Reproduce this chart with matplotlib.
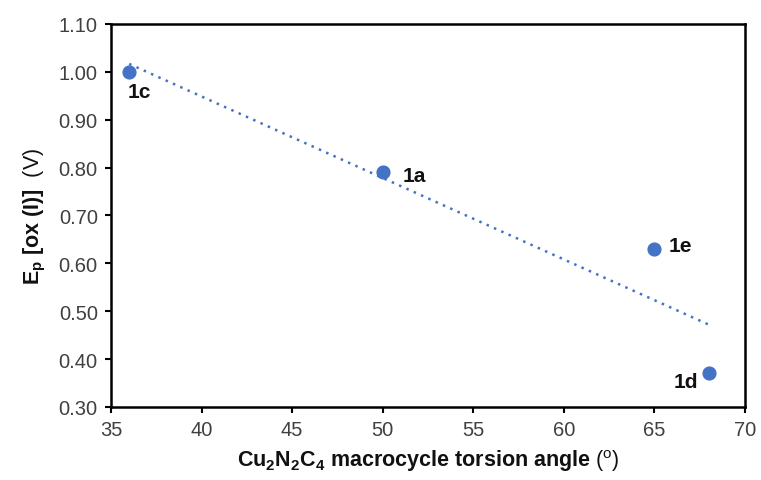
import numpy as np
import matplotlib
matplotlib.use("Agg")
import matplotlib.pyplot as plt

plt.rcParams['font.family'] = ['Liberation Sans', 'DejaVu Sans']
plt.rcParams['mathtext.fontset'] = 'custom'
plt.rcParams['mathtext.rm'] = 'Liberation Sans'
plt.rcParams['mathtext.bf'] = 'Liberation Sans:bold'
plt.rcParams['mathtext.it'] = 'Liberation Sans:italic'

labels = ["1c", "1a", "1e", "1d"]
angle = [36, 50, 65, 68]
ep = [1.00, 0.79, 0.63, 0.37]
label_offsets = [(-2, -20, 'left'), (20, -3, 'left'), (14, 3, 'left'), (-11, -8, 'right')]

fig = plt.figure(figsize=(7.61, 4.81), dpi=100)
ax = fig.add_axes([0.1459, 0.1518, 0.8331, 0.7963])

color = '#4472C4'
ax.plot(angle, ep, 'o', color=color, markersize=9.2, zorder=3)

coef = np.polyfit(angle, ep, 1)
xs = np.array([min(angle), max(angle)])
ax.plot(xs, np.polyval(coef, xs), linestyle=(0, (1, 2.2)), color=color, linewidth=1.8, zorder=2)

for lab, x, y, (dx, dy, ha) in zip(labels, angle, ep, label_offsets):
    ax.annotate(lab, (x, y), xytext=(dx * 0.72, dy * 0.72), textcoords='offset points',
                ha=ha, va='center', fontsize=15, fontweight='bold', color='#111111')

ax.set_xlim(35, 70)
ax.set_ylim(0.30, 1.10)
ax.set_xticks(np.arange(35, 71, 5))
ax.set_yticks(np.arange(0.30, 1.101, 0.10))
ax.set_yticklabels([f"{v:.2f}" for v in np.arange(0.30, 1.101, 0.10)])
ax.tick_params(labelsize=14.5, direction='out', length=4.5, width=1.5, colors='black',
               labelcolor='#404040', pad=5)
for s in ax.spines.values():
    s.set_linewidth(1.8)
    s.set_color('black')

ax.set_xlabel(r"$\mathbf{Cu_2N_2C_4\ macrocycle\ torsion\ angle}$ ($^\mathrm{o}$)", fontsize=15.5,
              labelpad=6, color='#111111')
ax.set_ylabel(r"$\mathbf{E_p\ [ox\ (I)]}$  (V)", fontsize=15.5, labelpad=8, color='#111111')

fig.savefig("out.png", dpi=100)
